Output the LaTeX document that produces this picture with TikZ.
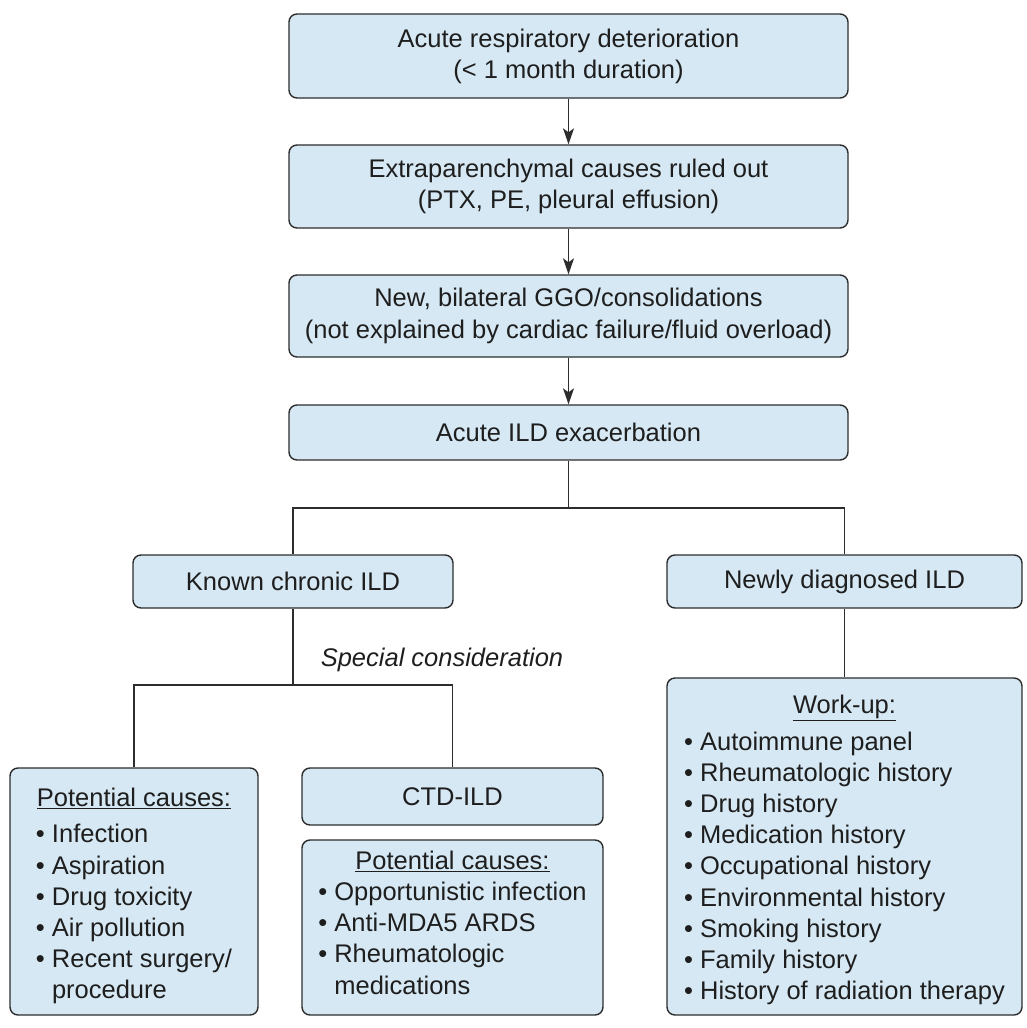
\documentclass[tikz,border=0pt]{standalone}
\usepackage{fontspec}
\setmainfont{Liberation Sans}
\usetikzlibrary{arrows.meta}
\definecolor{boxfill}{RGB}{214,232,243}
\definecolor{boxline}{RGB}{45,45,45}
\definecolor{txt}{RGB}{30,30,30}
\newcommand{\bul}{\textbullet\ }
\newcommand{\hang}{\hphantom{\textbullet\ }}
\begin{document}
\begin{tikzpicture}[x=1pt,y=-1pt,
  box/.style={draw=boxline, fill=boxfill, line width=1.4pt, rounded corners=8pt,
    inner sep=0pt, align=center, font=\fontsize{25.5}{31.2}\selectfont, text=txt},
  link/.style={draw=boxline, line width=1.4pt},
  arr/.style={link, -{Stealth[length=16pt,width=11pt,inset=4pt]}},
  lbl/.style={inner sep=0pt, font=\fontsize{25.5}{31.2}\selectfont\itshape, text=txt}]
\useasboundingbox (0,0) rectangle (1026,1028);
% main column
\node[box, minimum width=559pt, minimum height=84pt] (b1) at (568.5,56)
  {Acute respiratory deterioration\\(< 1 month duration)};
\node[box, minimum width=559pt, minimum height=83pt] (b2) at (568.5,186.5)
  {Extraparenchymal causes ruled out\\(PTX, PE, pleural effusion)};
\node[box, minimum width=559pt, minimum height=82pt] (b3) at (568.5,316)
  {New, bilateral GGO/consolidations\\(not explained by cardiac failure/fluid overload)};
\node[box, minimum width=559pt, minimum height=55pt] (b4) at (568.5,432.5)
  {Acute ILD exacerbation};
% second level
\node[box, minimum width=320pt, minimum height=53pt] (known) at (293,581.5)
  {Known chronic ILD};
\node[box, minimum width=355pt, minimum height=53pt] (newly) at (844.5,581.5)
  {Newly diagnosed ILD};
% third level
\node[box, minimum width=248pt, minimum height=247pt] (pc1) at (134,891.5)
  {\begin{tabular}{@{}l@{}}
   \multicolumn{1}{@{}c@{}}{\rule{0pt}{31.8pt}\underline{Potential causes:}}\\[5pt]
   \bul Infection\\
   \bul Aspiration\\
   \bul Drug toxicity\\
   \bul Air pollution\\
   \bul Recent surgery/\\
   \hang procedure
   \end{tabular}};
\node[box, minimum width=301pt, minimum height=57pt] (ctd) at (452.5,796.5)
  {CTD-ILD};
\node[box, minimum width=301pt, minimum height=175pt] (pc2) at (452.5,927.5)
  {\begin{tabular}{@{}l@{}}
   \multicolumn{1}{@{}c@{}}{\underline{Potential causes:}}\\
   \bul Opportunistic infection\\
   \bul Anti-MDA5 ARDS\\
   \bul Rheumatologic\\
   \hang medications\rule[-13.4pt]{0pt}{0pt}
   \end{tabular}};
\node[box, minimum width=355pt, minimum height=337pt] (workup) at (844.5,846.5)
  {\begin{tabular}{@{}l@{}}
   \multicolumn{1}{@{}c@{}}{\rule{0pt}{29.8pt}\underline{Work-up:}}\\[5pt]
   \bul Autoimmune panel\\
   \bul Rheumatologic history\\
   \bul Drug history\\
   \bul Medication history\\
   \bul Occupational history\\
   \bul Environmental history\\
   \bul Smoking history\\
   \bul Family history\\
   \bul History of radiation therapy
   \end{tabular}};
\node[lbl] (spec) at (442,660) {Special consideration};
% connectors
\draw[arr] (b1.south) -- (b2.north);
\draw[arr] (b2.south) -- (b3.north);
\draw[arr] (b3.south) -- (b4.north);
\coordinate (j1) at (568.5,508);
\draw[link] (b4.south) -- (j1);
\draw[link] (known.north) |- (j1) -| (newly.north);
\coordinate (j2) at (293,685);
\draw[link] (known.south) -- (j2);
\draw[link] (pc1.north) |- (j2) -| (ctd.north);
\draw[link] (newly.south) -- (workup.north);
\end{tikzpicture}
\end{document}
